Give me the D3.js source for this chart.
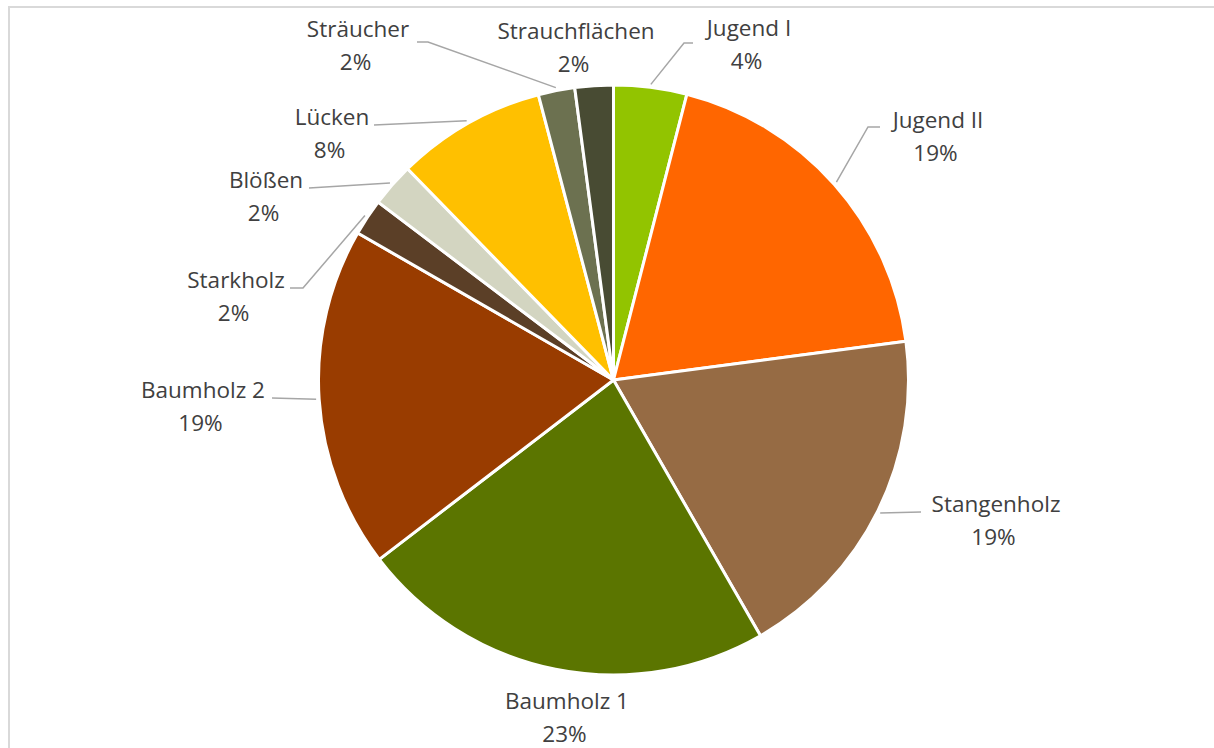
<!DOCTYPE html>
<html>
<head>
<meta charset="utf-8">
<script src="https://cdn.jsdelivr.net/npm/d3@7"></script>
<style>
  html, body { margin: 0; padding: 0; background: #ffffff; }
  svg { display: block; }
</style>
</head>
<body>
<svg id="chart" width="1214" height="748"></svg>
<script>
// Forest structure shares (percent of area)
const categories = ["Jugend I", "Jugend II", "Stangenholz", "Baumholz 1", "Baumholz 2",
                    "Starkholz", "Blößen", "Lücken", "Sträucher", "Strauchflächen"];
const shares = [4.0, 18.9, 18.8, 22.9, 18.7, 2.0, 2.4, 8.2, 2.0, 2.1];
const sliceColors = ["#92c400", "#ff6600", "#966b44", "#5b7500", "#993c00",
                     "#5b3f27", "#d3d5c1", "#ffc000", "#6c7150", "#484b33"];

// Label placement: name baseline centre, optional leader elbow points,
// optional leader attach angle (degrees clockwise from top)
const labelLayout = [
  { x: 749, y: 36,  leader: [[684, 43], [693, 43]] },
  { x: 938, y: 128, leader: [[868, 127], [880, 127]] },
  { x: 996, y: 512, leader: [[921, 512]], angle: 116.5 },
  { x: 567, y: 709, leader: null },
  { x: 203, y: 398, leader: [[272, 398]], angle: 266.3 },
  { x: 236, y: 288, leader: [[303, 288], [290, 288]] },
  { x: 266, y: 188, leader: [[309, 188]] },
  { x: 332, y: 125, leader: [[374, 125]] },
  { x: 358, y: 37,  leader: [[428, 42], [417, 42]] },
  { x: 576, y: 39,  leader: null }
];

const svg = d3.select("#chart");
const cx = 613.5, cy = 380, radius = 295;

// chart area frame
svg.append("rect")
  .attr("x", 9).attr("y", 7)
  .attr("width", 1400).attr("height", 900)
  .attr("fill", "none")
  .attr("stroke", "#d9d9d9")
  .attr("stroke-width", 2);

const data = categories.map((c, i) => ({ name: c, value: shares[i], color: sliceColors[i], layout: labelLayout[i] }));

const pie = d3.pie().sort(null).value(d => d.value);
const arc = d3.arc().innerRadius(0).outerRadius(radius);
const arcs = pie(data);

const g = svg.append("g").attr("transform", `translate(${cx},${cy})`);

g.selectAll("path.slice")
  .data(arcs)
  .join("path")
  .attr("class", "slice")
  .attr("d", arc)
  .attr("fill", d => d.data.color)
  .attr("stroke", "#ffffff")
  .attr("stroke-width", 3)
  .attr("stroke-linejoin", "round");

// leader lines
const leaderR = radius + 3;
const line = d3.line();
arcs.forEach(d => {
  const L = d.data.layout;
  if (!L.leader) return;
  const a = L.angle != null ? L.angle * Math.PI / 180 : (d.startAngle + d.endAngle) / 2;
  const start = [cx + leaderR * Math.sin(a), cy - leaderR * Math.cos(a)];
  svg.append("path")
    .attr("d", line([start, ...L.leader]))
    .attr("fill", "none")
    .attr("stroke", "#a6a6a6")
    .attr("stroke-width", 1.5);
});

// labels: category name and percentage
const fmt = d3.format(".0%");
const total = d3.sum(shares);
const labels = svg.selectAll("g.label")
  .data(arcs)
  .join("g")
  .attr("class", "label")
  .attr("font-family", "'Open Sans', 'Noto Sans', sans-serif")
  .attr("font-size", 22.5)
  .attr("fill", "#404040")
  .attr("text-anchor", "middle");

labels.append("text")
  .attr("x", d => d.data.layout.x)
  .attr("y", d => d.data.layout.y)
  .text(d => d.data.name);

labels.append("text")
  .attr("x", d => d.data.layout.x - 2.5)
  .attr("y", d => d.data.layout.y + 32.5)
  .text(d => fmt(d.data.value / total));
</script>
</body>
</html>
